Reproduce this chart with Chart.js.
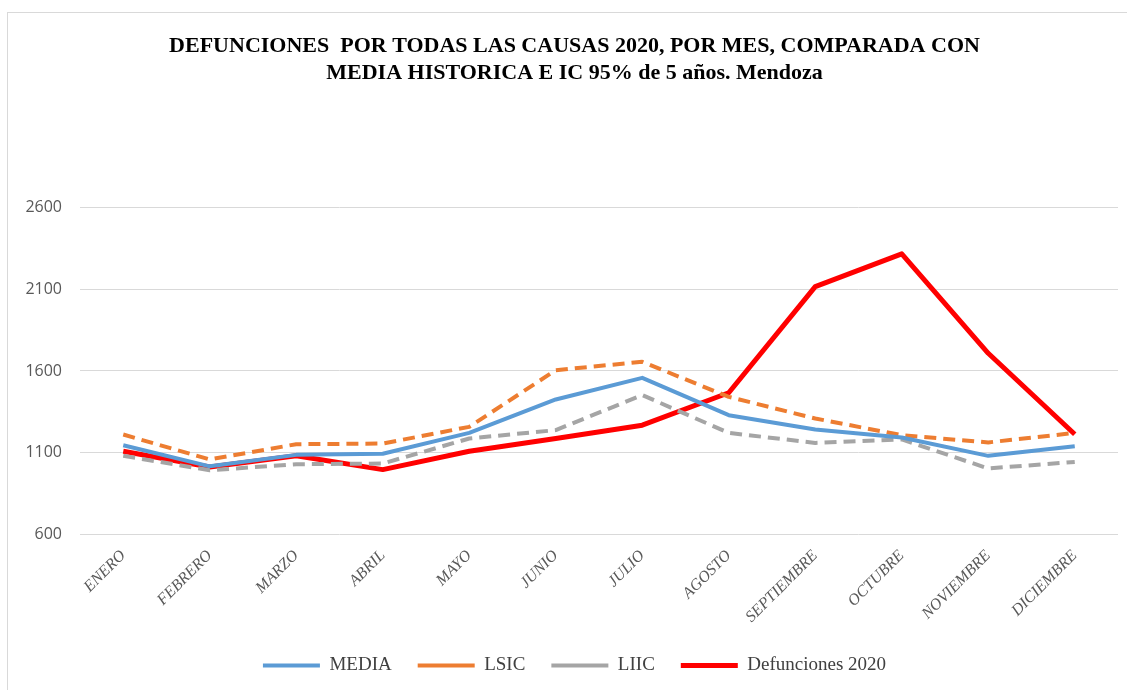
<!DOCTYPE html>
<html>
<head>
<meta charset="utf-8">
<script src="https://cdn.jsdelivr.net/npm/chart.js@4"></script>
<style>
  body { margin: 0; background: #fff; overflow: hidden; }
  #marco { position: absolute; left: 7px; top: 12px; width: 1140px; height: 700px; border: 1px solid #d9d9d9; }
  #grafico { position: absolute; left: 0; top: 0; }
</style>
</head>
<body>
<div id="marco"><canvas id="grafico" width="1119" height="677"></canvas></div>
<script>
var meses = ['ENERO', 'FEBRERO', 'MARZO', 'ABRIL', 'MAYO', 'JUNIO', 'JULIO', 'AGOSTO', 'SEPTIEMBRE', 'OCTUBRE', 'NOVIEMBRE', 'DICIEMBRE'];
var media = [1147, 1018, 1088, 1095, 1222, 1426, 1558, 1330, 1243, 1194, 1082, 1141];
var lsic = [1212, 1060, 1153, 1157, 1259, 1605, 1656, 1442, 1310, 1208, 1164, 1222];
var liic = [1082, 994, 1031, 1035, 1188, 1239, 1453, 1222, 1161, 1182, 1005, 1045];
var defunciones2020 = [1110, 1014, 1082, 998, 1110, 1188, 1269, 1467, 2115, 2315, 1708, 1214];
var ticksY = [600, 1100, 1600, 2100, 2600];

var ctx = document.getElementById('grafico').getContext('2d');
var myChart = new Chart(ctx, {
  type: 'line',
  data: {
    labels: meses,
    datasets: [{
      label: 'MEDIA',
      data: media,
      borderColor: '#5B9BD5',
      backgroundColor: '#5B9BD5',
      borderWidth: 4
    },
    {
      label: 'LSIC',
      data: lsic,
      borderColor: '#ED7D31',
      backgroundColor: '#ED7D31',
      borderWidth: 4,
      borderDash: [12, 7]
    },
    {
      label: 'LIIC',
      data: liic,
      borderColor: '#A5A5A5',
      backgroundColor: '#A5A5A5',
      borderWidth: 4,
      borderDash: [12, 7]
    },
    {
      label: 'Defunciones 2020',
      data: defunciones2020,
      borderColor: '#FF0000',
      backgroundColor: '#FF0000',
      borderWidth: 5
    }]
  },
  options: {
    responsive: false,
    animation: false,
    elements: { point: { radius: 0 }, line: { tension: 0, borderJoinStyle: 'round' } },
    layout: { padding: { left: 16, right: 2, top: 0, bottom: 5 } },
    plugins: {
      title: {
        display: true,
        text: ['DEFUNCIONES  POR TODAS LAS CAUSAS 2020, POR MES, COMPARADA CON', 'MEDIA HISTORICA E IC 95% de 5 años. Mendoza'],
        color: '#000',
        font: { family: 'Liberation Serif', size: 22, weight: 'bold', lineHeight: 1.23 },
        padding: { top: 20, bottom: 120 }
      },
      legend: {
        position: 'bottom',
        labels: {
          usePointStyle: true,
          pointStyle: 'line',
          pointStyleWidth: 57,
          padding: 26,
          color: '#404040',
          font: { family: 'Liberation Serif', size: 19 }
        }
      },
      tooltip: { enabled: false }
    },
    scales: {
      x: {
        offset: true,
        grid: { display: false },
        border: { display: false },
        afterFit: function (escala) {
          // que la primera etiqueta girada no empuje el area del grafico
          escala.paddingLeft = 0;
          escala.paddingRight = 0;
        },
        ticks: {
          color: '#595959',
          maxRotation: 45,
          minRotation: 45,
          padding: 3.5,
          font: { family: 'Liberation Serif', size: 16, style: 'italic' }
        }
      },
      y: {
        min: 600,
        max: 2600,
        afterBuildTicks: function (escala) {
          escala.ticks = ticksY.map(function (v) { return { value: v }; });
        },
        afterFit: function (escala) {
          escala.width = 56;
        },
        grid: { color: '#d9d9d9', drawTicks: false },
        border: { display: false },
        ticks: {
          color: '#595959',
          padding: 18,
          font: { family: 'Open Sans', size: 16 },
          callback: function (v) { return String(v); }
        }
      },
      // eje vacio a la derecha, solo deja un margen
      derecha: {
        position: 'right',
        grid: { display: false },
        border: { display: false },
        ticks: { display: false },
        afterFit: function (escala) {
          escala.width = 7;
        }
      }
    }
  }
});
</script>
</body>
</html>
